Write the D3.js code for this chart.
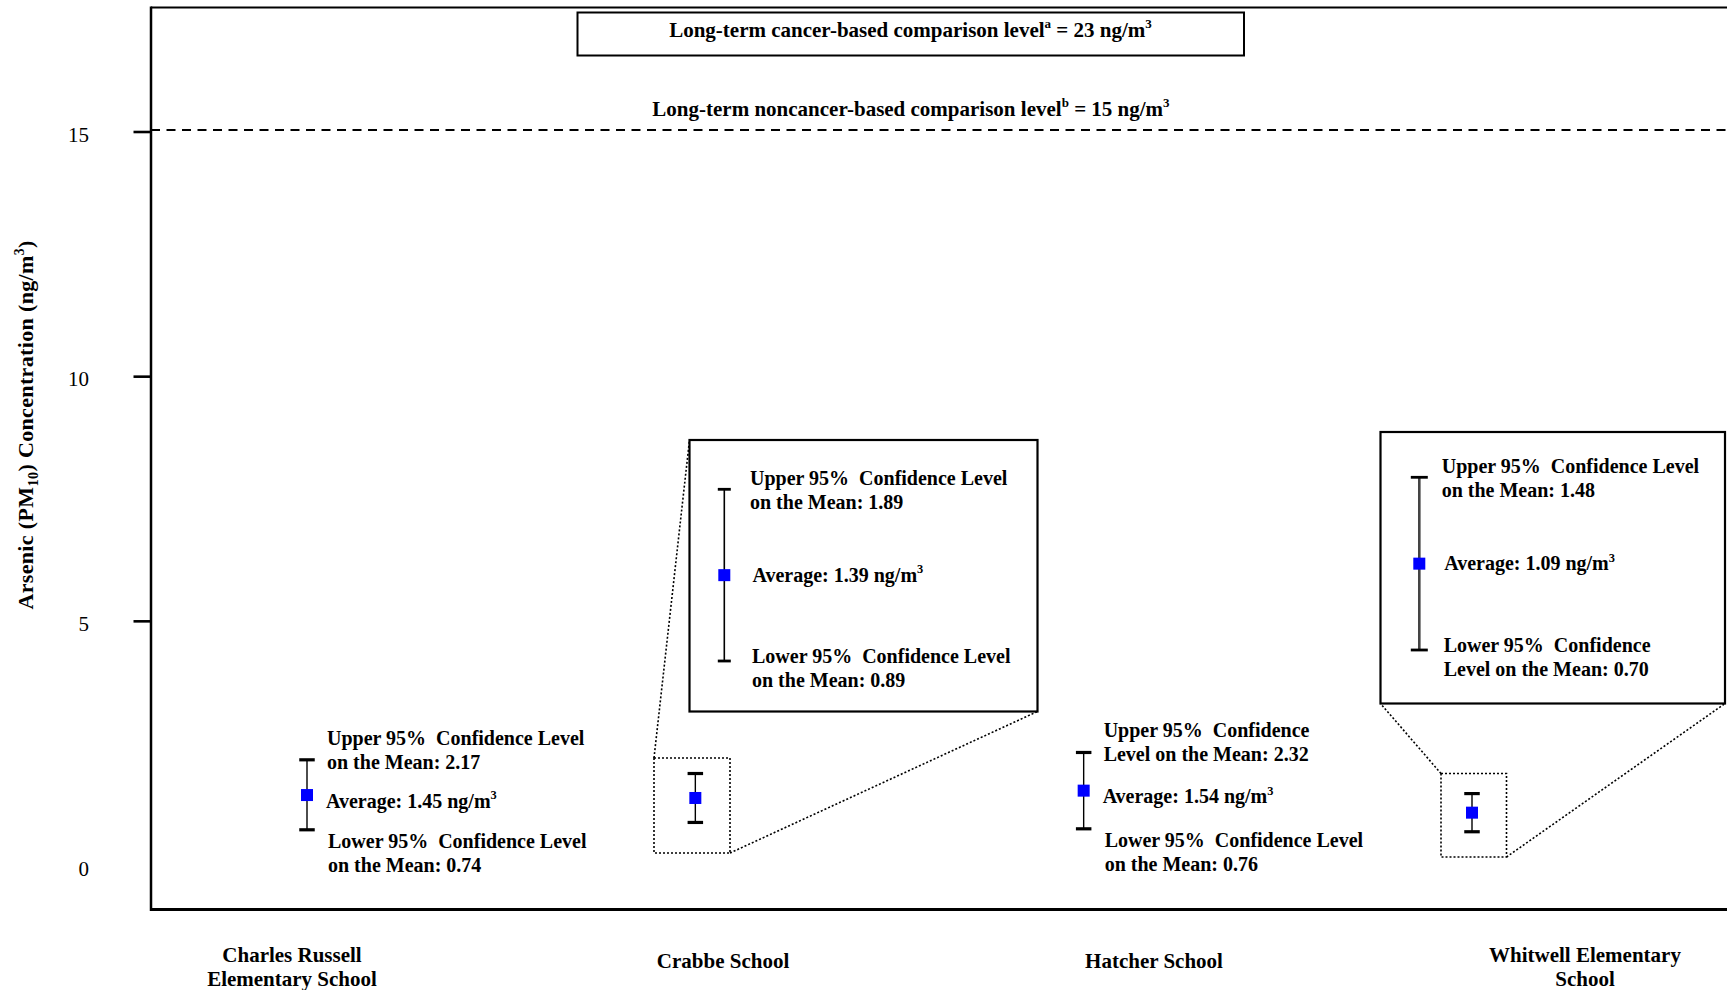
<!DOCTYPE html>
<html><head><meta charset="utf-8">
<script src="https://cdn.jsdelivr.net/npm/d3@7"></script>
<style>
body{margin:0;background:#fff}
svg{display:block}
text{font-family:"Liberation Serif","Times New Roman",serif;fill:#000}
</style>
</head><body>
<svg id="c" width="1727" height="990"></svg>
<script>
// ---------------- data ----------------
const categories = ["Charles Russell Elementary School", "Crabbe School", "Hatcher School", "Whitwell Elementary School"];
const categoryLabelLines = [["Charles Russell", "Elementary School"], ["Crabbe School"], ["Hatcher School"], ["Whitwell Elementary", "School"]];
const averages = [1.45, 1.39, 1.54, 1.09];
const upper95 = [2.17, 1.89, 2.32, 1.48];
const lower95 = [0.74, 0.89, 0.76, 0.70];
const upperWrapEarly = [false, false, true, false];
const lowerWrapEarly = [false, false, false, true];
const hasInset = [false, true, false, true];
const yTicks = [0, 5, 10, 15];
const yTickMarks = [5, 10, 15];
const noncancerLevel = 15;
const cancerLevel = 23;
const unit = "ng/m";

// ---------------- layout ----------------
const svg = d3.select("#c");
const frame = {left: 151, top: 7.5, bottom: 909.5, right: 1727};
const y = d3.scaleLinear().domain([0, 15]).range([866, 132]);
const x = d3.scalePoint().domain(categories).range([307, 1472]);
const labelX = d3.scalePoint().domain(categories).range([292, 1585]);
const fmt = d3.format(".2f");
const SERIF = '"Liberation Serif","Times New Roman",serif';

const insetLayout = {
  "Crabbe School": {
    box: {x0: 689.5, y0: 440, x1: 1037.5, y1: 711.5},
    small: {x0: 654, y0: 758, x1: 730, y1: 853},
    barX: 724.3, range: [661, 489.3], textX: 750,
    lineColor: "#000", lineWidth: 1.6, capW: 13,
    connect: [["tl", "tl"], ["br", "br"]]
  },
  "Whitwell Elementary School": {
    box: {x0: 1380.5, y0: 432, x1: 1725, y1: 703.5},
    small: {x0: 1441, y0: 773.5, x1: 1506.5, y1: 857},
    barX: 1419.3, range: [650, 477.3], textX: 1441.7,
    lineColor: "#444", lineWidth: 2.6, capW: 17,
    connect: [["tl", "bl"], ["br", "br"]]
  }
};

// rich text helper: parts = [text | {sup:"x"} | {sub:"x"}]
function rich(sel, parts, fs) {
  let shift = 0;
  parts.forEach(p => {
    const t = sel.append("tspan");
    if (typeof p === "string") {
      t.text(p).attr("dy", -shift); shift = 0;
    } else if (p.sup !== undefined) {
      const s = -0.42 * fs;
      t.text(p.sup).attr("font-size", fs * 0.62).attr("dy", s - shift); shift = s;
    } else {
      const s = 0.22 * fs;
      t.text(p.sub).attr("font-size", fs * 0.65).attr("dy", s - shift); shift = s;
    }
  });
  return sel;
}

function addText(x0, y0, parts, fs, anchor) {
  const t = svg.append("text").attr("x", x0).attr("y", y0)
    .attr("font-size", fs).attr("font-weight", "bold")
    .attr("text-anchor", anchor || "start");
  return rich(t, typeof parts === "string" ? [parts] : parts, fs);
}

// ---------------- frame ----------------
svg.append("line").attr("x1", frame.left).attr("x2", frame.left)
  .attr("y1", frame.top - 1).attr("y2", frame.bottom + 1.5)
  .attr("stroke", "#000").attr("stroke-width", 2.5);
svg.append("line").attr("x1", frame.left).attr("x2", frame.right)
  .attr("y1", frame.top).attr("y2", frame.top)
  .attr("stroke", "#000").attr("stroke-width", 2);
svg.append("line").attr("x1", frame.left).attr("x2", frame.right)
  .attr("y1", frame.bottom).attr("y2", frame.bottom)
  .attr("stroke", "#000").attr("stroke-width", 3);

// ---------------- y axis ----------------
const gy = svg.append("g").attr("transform", `translate(${frame.left},2.5)`)
  .call(d3.axisLeft(y).tickValues(yTicks).tickSize(0).tickPadding(62).tickFormat(d3.format("d")));
gy.select(".domain").remove();
gy.attr("font-family", SERIF).attr("font-size", 21);
gy.selectAll("text").attr("font-size", 21).attr("fill", "#000")
  .attr("font-family", SERIF).style("font-family", SERIF);

svg.selectAll("line.ytick").data(yTickMarks).join("line").attr("class", "ytick")
  .attr("x1", 133.5).attr("x2", frame.left)
  .attr("y1", d => y(d)).attr("y2", d => y(d))
  .attr("stroke", "#000").attr("stroke-width", 2.6);

const yt = svg.append("text").attr("transform", "translate(33,425) rotate(-90)")
  .attr("text-anchor", "middle").attr("font-size", 22).attr("font-weight", "bold")
  .attr("letter-spacing", 0.35);
rich(yt, ["Arsenic (PM", {sub: "10"}, ") Concentration (" + unit, {sup: "3"}, ")"], 22);

// ---------------- comparison levels ----------------
svg.append("line").attr("x1", frame.left).attr("x2", frame.right)
  .attr("y1", y(noncancerLevel) - 2).attr("y2", y(noncancerLevel) - 2)
  .attr("stroke", "#000").attr("stroke-width", 1.8).attr("stroke-dasharray", "9,6.5");
addText(911, 115.5, ["Long-term noncancer-based comparison level", {sup: "b"}, ` = ${noncancerLevel} ${unit}`, {sup: "3"}], 21, "middle");

svg.append("rect").attr("x", 577.5).attr("y", 12.5).attr("width", 666.5).attr("height", 43)
  .attr("fill", "none").attr("stroke", "#000").attr("stroke-width", 2);
addText(910.5, 36.5, ["Long-term cancer-based comparison level", {sup: "a"}, ` = ${cancerLevel} ${unit}`, {sup: "3"}], 21, "middle");

// ---------------- error bars ----------------
function errorBar(cx, ys, lo, mid, hi, opt) {
  const g = svg.append("g");
  g.append("line").attr("x1", cx).attr("x2", cx).attr("y1", ys(hi)).attr("y2", ys(lo))
    .attr("stroke", opt.lineColor || "#000").attr("stroke-width", opt.lineWidth || 1.4);
  [hi, lo].forEach(v => {
    g.append("line").attr("x1", cx - opt.capW / 2).attr("x2", cx + opt.capW / 2)
      .attr("y1", ys(v)).attr("y2", ys(v))
      .attr("stroke", "#000").attr("stroke-width", opt.capT || 3);
  });
  g.append("rect").attr("x", cx - 6).attr("y", ys(mid) - 6).attr("width", 12).attr("height", 12)
    .attr("fill", "#0000ff");
}

function upperLines(i) {
  const v = fmt(upper95[i]);
  return upperWrapEarly[i]
    ? ["Upper 95%\u2002Confidence", `Level on the Mean: ${v}`]
    : ["Upper 95%\u2002Confidence Level", `on the Mean: ${v}`];
}
function lowerLines(i) {
  const v = fmt(lower95[i]);
  return lowerWrapEarly[i]
    ? ["Lower 95%\u2002Confidence", `Level on the Mean: ${v}`]
    : ["Lower 95%\u2002Confidence Level", `on the Mean: ${v}`];
}
function avgParts(i) { return [`Average: ${fmt(averages[i])} ${unit}`, {sup: "3"}]; }

categories.forEach((c, i) => {
  const cx = x(c);
  errorBar(cx, y, lower95[i], averages[i], upper95[i], {capW: 15.5, capT: 3.2});
  if (!hasInset[i]) {
    const tx = cx + 20;
    const ul = upperLines(i), ll = lowerLines(i);
    addText(tx, y(upper95[i]) - 15, ul[0], 20);
    addText(tx, y(upper95[i]) + 9, ul[1], 20);
    addText(tx - 1, y(averages[i]) + 12.5, avgParts(i), 20);
    addText(tx + 1, y(lower95[i]) + 18, ll[0], 20);
    addText(tx + 1, y(lower95[i]) + 42, ll[1], 20);
  } else {
    const L = insetLayout[c];
    const dot = {fill: "none", stroke: "#000", "stroke-width": 1.6, "stroke-dasharray": "2,2"};
    const s = L.small, b = L.box;
    const sm = svg.append("rect").attr("x", s.x0).attr("y", s.y0)
      .attr("width", s.x1 - s.x0).attr("height", s.y1 - s.y0);
    Object.entries(dot).forEach(([k, v]) => sm.attr(k, v));
    const corner = (r, k) => ({
      tl: [r.x0, r.y0], tr: [r.x1, r.y0], bl: [r.x0, r.y1], br: [r.x1, r.y1]
    })[k];
    L.connect.forEach(([a, bb]) => {
      const p = corner(s, a), q = corner(b, bb);
      const ln = svg.append("line").attr("x1", p[0]).attr("y1", p[1]).attr("x2", q[0]).attr("y2", q[1]);
      Object.entries(dot).forEach(([k, v]) => ln.attr(k, v));
    });
    svg.append("rect").attr("x", b.x0).attr("y", b.y0)
      .attr("width", b.x1 - b.x0).attr("height", b.y1 - b.y0)
      .attr("fill", "#fff").attr("stroke", "#000").attr("stroke-width", 2.2);
    const ys = d3.scaleLinear().domain([lower95[i], upper95[i]]).range(L.range);
    errorBar(L.barX, ys, lower95[i], averages[i], upper95[i],
      {capW: L.capW, capT: 2.8, lineColor: L.lineColor, lineWidth: L.lineWidth});
    const tx = L.textX;
    const ul = upperLines(i), ll = lowerLines(i);
    addText(tx, ys(upper95[i]) - 4.5, ul[0], 20);
    addText(tx, ys(upper95[i]) + 19.5, ul[1], 20);
    addText(tx + 2.5, ys(averages[i]) + 6.5, avgParts(i), 20);
    addText(tx + 2, ys(lower95[i]) + 2, ll[0], 20);
    addText(tx + 2, ys(lower95[i]) + 25.5, ll[1], 20);
  }
});

// ---------------- category labels ----------------
categories.forEach((c, i) => {
  const lines = categoryLabelLines[i];
  const base = lines.length === 1 ? 968 : 962;
  lines.forEach((ln, j) => addText(labelX(c), base + j * 24, ln, 21, "middle"));
});
</script>
</body></html>
